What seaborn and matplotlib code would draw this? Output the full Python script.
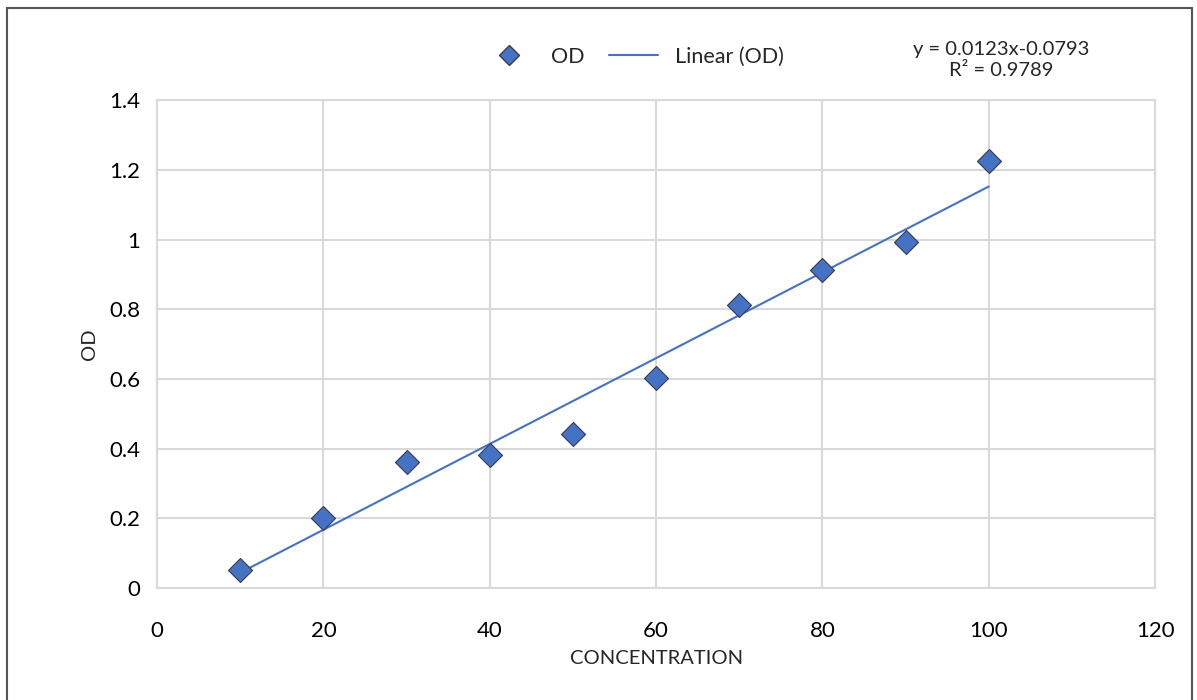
import matplotlib
matplotlib.use("Agg")
import matplotlib.pyplot as plt
import seaborn as sns
import pandas as pd
from matplotlib.lines import Line2D
from matplotlib.patches import Rectangle

concentration = [10, 20, 30, 40, 50, 60, 70, 80, 90, 100]
od = [0.052, 0.200, 0.361, 0.381, 0.442, 0.602, 0.812, 0.912, 0.993, 1.225]
x_ticks = [0, 20, 40, 60, 80, 100, 120]
y_ticks = [0, 0.2, 0.4, 0.6, 0.8, 1.0, 1.2, 1.4]
y_tick_labels = ["0", "0.2", "0.4", "0.6", "0.8", "1", "1.2", "1.4"]
equation_text = "y = 0.0123x-0.0793\nR² = 0.9789"

df = pd.DataFrame({"CONCENTRATION": concentration, "OD": od})

sns.set_theme(style="white")
plt.rcParams["font.family"] = ["Lato", "DejaVu Sans"]

blue = "#4472C4"
grid_c = "#D9D9D9"

fig = plt.figure(figsize=(11.97, 7.0), dpi=100)
ax = fig.add_axes([0.1312, 0.16, 0.965 - 0.1312, 0.857 - 0.16])

sns.regplot(data=df, x="CONCENTRATION", y="OD", ax=ax, ci=None, truncate=True,
            scatter=False, line_kws=dict(color=blue, lw=1.5, zorder=2))
sns.scatterplot(data=df, x="CONCENTRATION", y="OD", ax=ax, marker="D", s=150,
                color=blue, edgecolor="#3a3a50", linewidth=0.8, zorder=3)

ax.set_xlim(0, 120)
ax.set_ylim(0, 1.4)
ax.set_xticks(x_ticks)
ax.set_yticks(y_ticks)
ax.set_yticklabels(y_tick_labels)
ax.grid(True, color=grid_c, lw=1.5)
ax.set_axisbelow(True)
for s in ax.spines.values():
    s.set_color(grid_c)
    s.set_linewidth(1.5)
ax.tick_params(axis="x", length=0, labelsize=16, colors="#000000", pad=24)
ax.tick_params(axis="y", length=0, labelsize=16, colors="#000000", pad=12)
ax.set_xlabel("CONCENTRATION", fontsize=14.5, labelpad=6)
ax.set_ylabel("OD", fontsize=14.5, labelpad=8)

handles = [
    Line2D([], [], marker="D", ls="none", color=blue, markeredgecolor="#3a3a50",
           markersize=10),
    Line2D([], [], color=blue, lw=1.5),
]
leg = fig.legend(handles, ["OD", "Linear (OD)"], loc="center", bbox_to_anchor=(0.53, 0.919),
                 ncol=2, frameon=False, fontsize=15.5, handlelength=2.3, columnspacing=1.1,
                 handletextpad=0.8)

fig.text(0.836, 0.914, equation_text, ha="center", va="center", fontsize=14.5,
         linespacing=1.3)

fig.patches.append(Rectangle((0.006, -0.05), 0.99, 1.039, transform=fig.transFigure,
                             fill=False, edgecolor="#555555", lw=1.5))

fig.savefig("out.png", dpi=100, facecolor="white")
